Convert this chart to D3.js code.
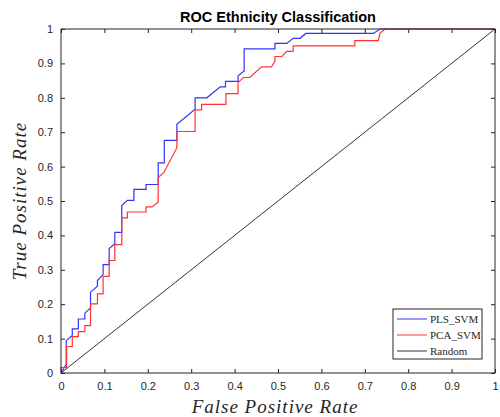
<!DOCTYPE html>
<html>
<head>
<meta charset="utf-8">
<script src="https://d3js.org/d3.v7.min.js"></script>
<style>
    body { margin: 0; background: #fff; }
    svg text { font-family: "Liberation Sans", Arial, sans-serif; }
    .tick text { fill: #262626; font-size: 11px; }
    .tick line { stroke: #262626; }
    .domain { display: none; }
    .roc { fill: none; }
</style>
</head>
<body>
<svg id="main" width="500" height="417"></svg>
<script>
// values
var xTicks = [0, 0.1, 0.2, 0.3, 0.4, 0.5, 0.6, 0.7, 0.8, 0.9, 1];
var yTicks = [0, 0.1, 0.2, 0.3, 0.4, 0.5, 0.6, 0.7, 0.8, 0.9, 1];

var seriesNames = ['PLS_SVM', 'PCA_SVM', 'Random'];
var seriesColors = ['#3333ff', '#ff3333', '#333333'];

var plsFpr = [0, 0.012, 0.012, 0.026, 0.026, 0.040, 0.040, 0.055, 0.055, 0.068, 0.068, 0.084, 0.084, 0.097, 0.097,
    0.111, 0.111, 0.124, 0.124, 0.140, 0.140, 0.153, 0.168, 0.168, 0.196, 0.196, 0.224, 0.224, 0.238, 0.238,
    0.267, 0.267, 0.309, 0.309, 0.336, 0.367, 0.379, 0.379, 0.408, 0.408, 0.422, 0.422, 0.493, 0.493, 0.520,
    0.535, 0.551, 0.564, 0.720, 0.735, 1];
var plsTpr = [0, 0.025, 0.094, 0.109, 0.128, 0.128, 0.157, 0.157, 0.174, 0.189, 0.235, 0.252, 0.269, 0.286, 0.315,
    0.315, 0.362, 0.376, 0.409, 0.409, 0.487, 0.502, 0.502, 0.534, 0.534, 0.548, 0.548, 0.611, 0.611, 0.676,
    0.676, 0.723, 0.767, 0.800, 0.800, 0.832, 0.832, 0.848, 0.848, 0.864, 0.878, 0.942, 0.942, 0.958, 0.958,
    0.973, 0.973, 0.987, 0.987, 1, 1];

var pcaFpr = [0, 0, 0.013, 0.013, 0.026, 0.026, 0.040, 0.040, 0.055, 0.055, 0.068, 0.068, 0.084, 0.084, 0.097,
    0.097, 0.111, 0.111, 0.124, 0.124, 0.140, 0.140, 0.153, 0.153, 0.196, 0.196, 0.210, 0.224, 0.224, 0.237,
    0.267, 0.267, 0.309, 0.309, 0.324, 0.324, 0.380, 0.380, 0.408, 0.408, 0.420, 0.435, 0.462, 0.485, 0.493,
    0.493, 0.509, 0.520, 0.535, 0.535, 0.677, 0.677, 0.731, 0.735, 0.747, 1];
var pcaTpr = [0, 0.016, 0.016, 0.077, 0.077, 0.106, 0.106, 0.120, 0.120, 0.138, 0.138, 0.201, 0.201, 0.230, 0.230,
    0.281, 0.281, 0.327, 0.327, 0.373, 0.373, 0.451, 0.451, 0.468, 0.468, 0.483, 0.483, 0.497, 0.568, 0.583,
    0.655, 0.702, 0.702, 0.765, 0.765, 0.781, 0.781, 0.812, 0.812, 0.844, 0.859, 0.859, 0.890, 0.890, 0.906,
    0.920, 0.920, 0.935, 0.935, 0.951, 0.951, 0.966, 0.966, 0.988, 1, 1];

var randFpr = [0, 1];
var randTpr = [0, 1];

var svg = d3.select('#main');
// plot box in pixels (window.top is reserved, so no plain "top")
var plotL = 61, plotR = 495, plotT = 29, plotB = 373;

var x = d3.scaleLinear().domain([0, 1]).range([plotL, plotR]);
var y = d3.scaleLinear().domain([0, 1]).range([plotB, plotT]);
var fmt = function(d){ return d3.format('~g')(d) };

// axes, ticks pointing inward like matlab
svg.append('g').attr('transform', 'translate(0,' + plotB + ')')
    .call(d3.axisBottom(x).tickValues(xTicks).tickFormat(fmt).tickSizeInner(-4).tickSizeOuter(0).tickPadding(9));
svg.append('g').attr('transform', 'translate(0,' + plotT + ')')
    .call(d3.axisTop(x).tickValues(xTicks).tickFormat('').tickSizeInner(-4).tickSizeOuter(0));
svg.append('g').attr('transform', 'translate(' + plotL + ',0)')
    .call(d3.axisLeft(y).tickValues(yTicks).tickFormat(fmt).tickSizeInner(-4).tickSizeOuter(0).tickPadding(8));
svg.append('g').attr('transform', 'translate(' + plotR + ',0)')
    .call(d3.axisRight(y).tickValues(yTicks).tickFormat('').tickSizeInner(-4).tickSizeOuter(0));

// curves
var line = d3.line().x(d => x(d[0])).y(d => y(d[1]));
var series = [
    d3.zip(plsFpr, plsTpr),
    d3.zip(pcaFpr, pcaTpr),
    d3.zip(randFpr, randTpr)
];
// random first, then the two classifiers on top
[2, 0, 1].forEach(function(i){
    svg.append('path')
        .datum(series[i])
        .attr('class', 'roc')
        .attr('d', line)
        .attr('stroke', seriesColors[i])
        .attr('stroke-width', i == 2 ? 1 : 1.2);
});

// frame
svg.append('rect')
    .attr('x', plotL).attr('y', plotT)
    .attr('width', plotR - plotL).attr('height', plotB - plotT)
    .attr('fill', 'none').attr('stroke', '#262626').attr('stroke-width', 1);

// title and labels
svg.append('text')
    .attr('x', 278).attr('y', 22)
    .attr('text-anchor', 'middle')
    .style('font-size', '14.5px').style('font-weight', 'bold')
    .text('ROC Ethnicity Classification');

svg.append('text')
    .attr('x', 275).attr('y', 413)
    .attr('text-anchor', 'middle')
    .style('font-family', '"Liberation Serif", serif').style('font-style', 'italic')
    .style('font-size', '19px').style('letter-spacing', '1px').attr('fill', '#262626')
    .text('False Positive Rate');

svg.append('text')
    .attr('transform', 'translate(26,' + ((plotT + plotB) / 2) + ') rotate(-90)')
    .attr('text-anchor', 'middle')
    .style('font-family', '"Liberation Serif", serif').style('font-style', 'italic')
    .style('font-size', '19px').style('letter-spacing', '1px').attr('fill', '#262626')
    .text('True Positive Rate');

// legend
var lg = svg.append('g').attr('transform', 'translate(393,309)');
lg.append('rect')
    .attr('width', 89).attr('height', 50)
    .attr('fill', '#fff').attr('stroke', '#262626').attr('stroke-width', 1);
seriesNames.forEach(function(name, i){
    var yy = 10 + i * 16;
    lg.append('line')
        .attr('x1', 4).attr('x2', 34).attr('y1', yy).attr('y2', yy)
        .attr('stroke', seriesColors[i]).attr('stroke-width', 1);
    lg.append('text')
        .attr('x', 37).attr('y', yy + 4)
        .style('font-family', '"Liberation Serif", serif').style('font-size', '11px')
        .attr('fill', '#262626')
        .text(name);
});
</script>
</body>
</html>
